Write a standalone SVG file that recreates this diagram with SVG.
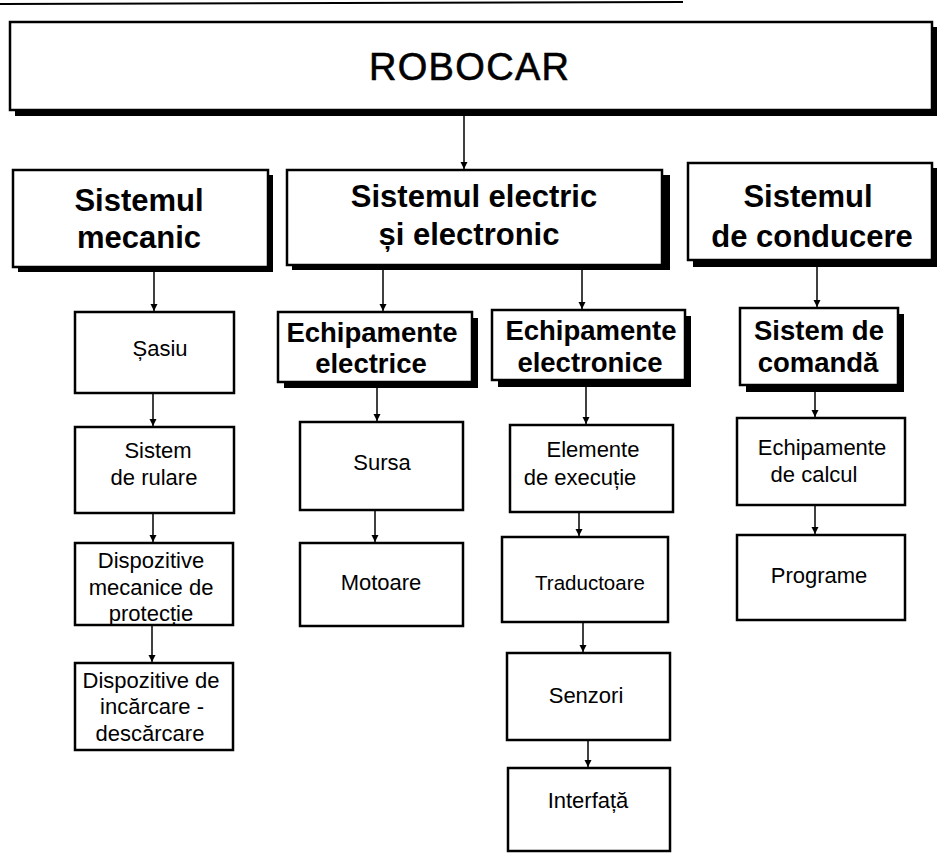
<svg xmlns="http://www.w3.org/2000/svg" width="938" height="854" viewBox="0 0 938 854">
<defs>
<marker id="ah" markerUnits="userSpaceOnUse" markerWidth="8" markerHeight="8" refX="7" refY="4" orient="auto">
<path d="M0,0.5 L7,4 L0,7.5 Z" fill="#000"/>
</marker>
</defs>
<style>
.bx{fill:#fff;stroke:#000;stroke-width:2.5}
.sh{fill:#000}
.t{font-family:"Liberation Sans",Arial,sans-serif;font-size:22px;fill:#000;text-anchor:middle}
.b2{font-family:"Liberation Sans",Arial,sans-serif;font-size:31px;font-weight:bold;fill:#000;text-anchor:middle}
.b3{font-family:"Liberation Sans",Arial,sans-serif;font-size:27.5px;font-weight:bold;fill:#000;text-anchor:middle}
.top{font-family:"Liberation Sans",Arial,sans-serif;font-size:38px;fill:#000;text-anchor:middle;stroke:#000;stroke-width:0.6}
.c{stroke:#000;stroke-width:1.5;fill:none;marker-end:url(#ah)}
</style>
<rect width="938" height="854" fill="#fff"/>
<line x1="0" y1="4" x2="683" y2="2" stroke="#000" stroke-width="2"/>

<g id="robocar">
<rect class="sh" x="15" y="27" width="922" height="89"/>
<rect class="bx" x="10" y="22" width="922" height="88" stroke-width="2"/>
<text class="top" x="469" y="80" textLength="200">ROBOCAR</text>
</g>

<g id="mecanic">
<rect class="sh" x="18" y="175" width="255" height="97"/>
<rect class="bx" x="13" y="170" width="255" height="97"/>
<text class="b2" x="139" y="211">Sistemul</text>
<text class="b2" x="139" y="248">mecanic</text>
</g>

<g id="electric">
<rect class="sh" x="292" y="175" width="378" height="95"/>
<rect class="bx" x="287" y="170" width="375" height="95"/>
<text class="b2" x="474" y="207">Sistemul electric</text>
<text class="b2" x="469" y="245">și electronic</text>
</g>

<g id="conducere">
<rect class="sh" x="693" y="168" width="244" height="99"/>
<rect class="bx" x="688" y="163" width="244" height="97"/>
<text class="b2" x="808" y="207">Sistemul</text>
<text class="b2" x="812" y="247">de conducere</text>
</g>

<g id="ech-electrice">
<rect class="sh" x="284" y="318" width="194" height="70"/>
<rect class="bx" x="278" y="312" width="194" height="70"/>
<text class="b3" x="372" y="342">Echipamente</text>
<text class="b3" x="371" y="373">electrice</text>
</g>

<g id="ech-electronice">
<rect class="sh" x="498" y="316" width="193" height="71"/>
<rect class="bx" x="492" y="310" width="193" height="70"/>
<text class="b3" x="591" y="340">Echipamente</text>
<text class="b3" x="590" y="372">electronice</text>
</g>

<g id="comanda">
<rect class="sh" x="746" y="314" width="158" height="78"/>
<rect class="bx" x="740" y="308" width="158" height="77"/>
<text class="b3" x="819" y="340">Sistem de</text>
<text class="b3" x="818" y="372">comandă</text>
</g>

<g id="sasiu">
<rect class="bx" x="75" y="312" width="159" height="81"/>
<text class="t" x="160" y="356">Șasiu</text>
</g>

<g id="rulare">
<rect class="bx" x="75" y="427" width="159" height="86"/>
<text class="t" x="158" y="458">Sistem</text>
<text class="t" x="154" y="485">de rulare</text>
</g>

<g id="disp-mecanice">
<rect class="bx" x="75" y="543" width="158" height="82"/>
<text class="t" x="151" y="568">Dispozitive</text>
<text class="t" x="151" y="595">mecanice de</text>
<text class="t" x="151" y="621">protecție</text>
</g>

<g id="disp-incarcare">
<rect class="bx" x="75" y="663" width="158" height="87"/>
<text class="t" x="151" y="688">Dispozitive de</text>
<text class="t" x="152" y="714">incărcare -</text>
<text class="t" x="150" y="741">descărcare</text>
</g>

<g id="sursa">
<rect class="bx" x="300" y="422" width="163" height="88"/>
<text class="t" x="382" y="470">Sursa</text>
</g>

<g id="motoare">
<rect class="bx" x="300" y="543" width="163" height="83"/>
<text class="t" x="381" y="590">Motoare</text>
</g>

<g id="elemente">
<rect class="bx" x="510" y="425" width="163" height="87"/>
<text class="t" x="593" y="457">Elemente</text>
<text class="t" x="580" y="485">de execuție</text>
</g>

<g id="traductoare">
<rect class="bx" x="502" y="537" width="166" height="85"/>
<text class="t" x="590" y="590" style="font-size:20.5px">Traductoare</text>
</g>

<g id="senzori">
<rect class="bx" x="507" y="653" width="163" height="87"/>
<text class="t" x="586" y="703">Senzori</text>
</g>

<g id="interfata">
<rect class="bx" x="508" y="768" width="162" height="83"/>
<text class="t" x="588" y="808">Interfață</text>
</g>

<g id="calcul">
<rect class="bx" x="737" y="418" width="168" height="87"/>
<text class="t" x="822" y="455">Echipamente</text>
<text class="t" x="814" y="482">de calcul</text>
</g>

<g id="programe">
<rect class="bx" x="737" y="535" width="168" height="85"/>
<text class="t" x="819" y="583">Programe</text>
</g>

<g id="connectors">
<line class="c" x1="464" y1="116" x2="464" y2="169"/>
<line class="c" x1="154" y1="272" x2="154" y2="311"/>
<line class="c" x1="153" y1="394" x2="153" y2="426"/>
<line class="c" x1="153" y1="514" x2="153" y2="542"/>
<line class="c" x1="152" y1="626" x2="152" y2="662"/>
<line class="c" x1="383" y1="270" x2="383" y2="311"/>
<line class="c" x1="377" y1="388" x2="377" y2="421"/>
<line class="c" x1="375" y1="511" x2="375" y2="542"/>
<line class="c" x1="582" y1="270" x2="582" y2="309"/>
<line class="c" x1="586" y1="387" x2="586" y2="424"/>
<line class="c" x1="579" y1="513" x2="579" y2="536"/>
<line class="c" x1="583" y1="623" x2="583" y2="652"/>
<line class="c" x1="588" y1="741" x2="588" y2="767"/>
<line class="c" x1="817" y1="267" x2="817" y2="307"/>
<line class="c" x1="815" y1="392" x2="815" y2="417"/>
<line class="c" x1="815" y1="506" x2="815" y2="534"/>
</g>
</svg>
